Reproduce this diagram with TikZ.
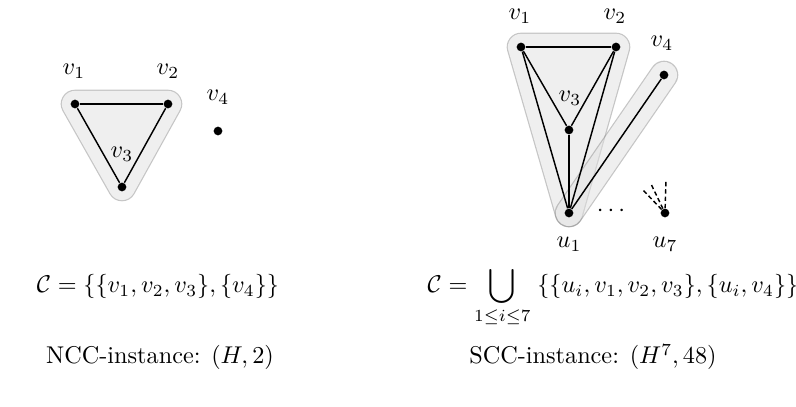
\documentclass[tikz,border=0pt]{standalone}
\usepackage{amsmath,amssymb}
\usetikzlibrary{positioning,backgrounds}

\begin{document}
\begin{tikzpicture}[x=0.4125pt, y=-0.4125pt]
    % Define styles
    \tikzstyle{vertex} = [circle, fill=black, inner sep=0pt, minimum size=3.6pt]
    \tikzstyle{edge} = [line width=0.6pt]
    \tikzstyle{hullout} = [draw=black!45, fill=black!12, line width=11.8pt, line cap=round, line join=round]
    \tikzstyle{hullin} = [draw=black!12, fill=black!12, line width=10.8pt, line cap=round, line join=round]
    \tikzstyle{hullgroup} = [transparency group, opacity=0.5]
    \tikzstyle{caption} = [anchor=base]

    \useasboundingbox (0,0) rectangle (796,407);

    % Left side - NCC graph
    \node [vertex] (a1) at (75,104) {};
    \node [vertex] (a2) at (168,104) {};
    \node [vertex] (a3) at (122,187) {};
    \node [vertex] (a4) at (218,131) {};
    \node (la1) at (74,71) {$v_1$};
    \node (la2) at (168,71) {$v_2$};
    \node (la3) at (122,154) {$v_3$};
    \node (la4) at (218,97) {$v_4$};

    \begin{scope}[on background layer]
        \begin{scope}[hullgroup]
            \filldraw [hullout] (a1.center) -- (a2.center) -- (a3.center) -- cycle;
            \filldraw [hullin] (a1.center) -- (a2.center) -- (a3.center) -- cycle;
        \end{scope}
    \end{scope}

    \draw [edge] (a1) -- (a2);
    \draw [edge] (a2) -- (a3);
    \draw [edge] (a3) -- (a1);

    % Right side - SCC graph
    \node [vertex] (b1) at (521,47) {};
    \node [vertex] (b2) at (616,47) {};
    \node [vertex] (b3) at (569,130) {};
    \node [vertex] (b4) at (664,75) {};
    \node [vertex] (c1) at (569,213) {};
    \node [vertex] (c7) at (665,213) {};
    \node (lb1) at (520,16) {$v_1$};
    \node (lb2) at (615,16) {$v_2$};
    \node (lb3) at (570,98) {$v_3$};
    \node (lb4) at (662,43) {$v_4$};
    \node (lc1) at (569,244) {$u_1$};
    \node (lc7) at (665,244) {$u_7$};
    \node (dots) at (613,211) {$\cdots$};

    \begin{scope}[on background layer]
        \begin{scope}[hullgroup]
            \filldraw [hullout] (b1.center) -- (b2.center) -- (c1.center) -- cycle;
            \filldraw [hullin] (b1.center) -- (b2.center) -- (c1.center) -- cycle;
        \end{scope}
        \begin{scope}[hullgroup]
            \draw [hullout] (c1.center) -- (b4.center);
            \draw [hullin] (c1.center) -- (b4.center);
        \end{scope}
    \end{scope}

    \foreach \from/\to in {b1/b2, b1/b3, b2/b3, b1/c1, b2/c1, b3/c1, b4/c1}
        \draw [edge] (\from) -- (\to);

    % hints of the other edges at u7
    \coordinate (d1) at (643,190);
    \coordinate (d2) at (651,184);
    \coordinate (d3) at (666,181);
    \foreach \tip in {d1, d2, d3}
        \draw [edge, dash pattern=on 1.8pt off 1.2pt] (c7) -- (\tip);

    % Formulas
    \node [caption] (setA) at (158,293) {$\mathcal{C} = \{\{v_1,v_2,v_3\},\{v_4\}\}$};
    \node [caption] (setB) at (613,293) {$\displaystyle \mathcal{C} = \bigcup_{1\leq i\leq 7}\; \{\{u_i,v_1,v_2,v_3\},\{u_i,v_4\}\}$};
    \node [caption] (instA) at (160,364) {NCC-instance: $(H,2)$};
    \node [caption] (instB) at (593,364) {SCC-instance: $(H^7,48)$};
\end{tikzpicture}
\end{document}
